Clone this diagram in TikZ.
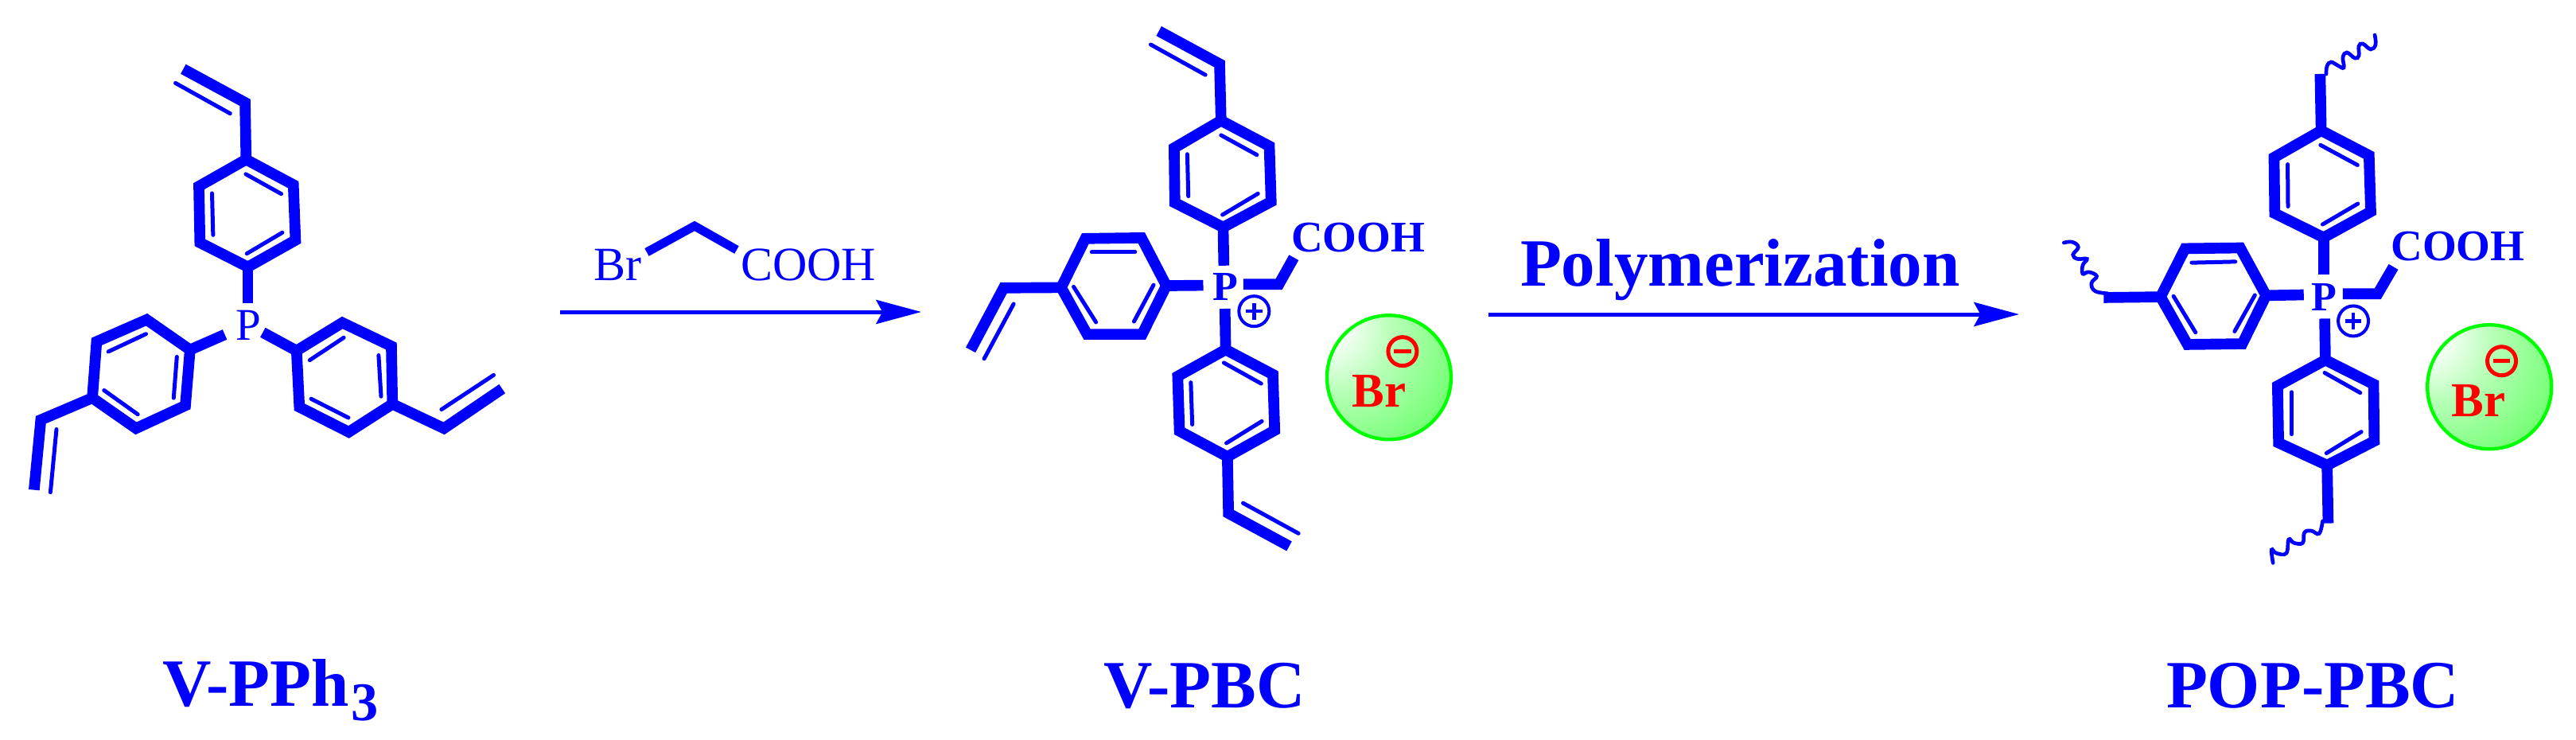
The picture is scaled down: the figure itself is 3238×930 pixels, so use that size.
\documentclass[tikz,border=0pt]{standalone}
\usepackage{fontspec}
\setmainfont{Liberation Serif}
\usetikzlibrary{arrows.meta}
\definecolor{cblue}{rgb}{0,0,1}
\definecolor{cred}{rgb}{1,0,0}
\definecolor{cgreen}{rgb}{0,1,0}
\pgfdeclareradialshading{gball}{\pgfpoint{-30bp}{24bp}}{%
 rgb(0bp)=(1,1,1); rgb(8bp)=(1,1,1); rgb(24bp)=(.72,1,.72); rgb(50bp)=(.4,1,.4); rgb(76bp)=(.1,1,.1); rgb(90bp)=(0,1,0); rgb(100bp)=(0,1,0)}
\tikzset{
 bond/.style={draw=cblue,line width=4.1pt,line join=miter,miter limit=10},
 dbl/.style={draw=cblue,line width=1.5pt,line cap=round},
 wavy/.style={draw=cblue,line width=1.4pt,line cap=round},
 lab/.style={inner sep=0pt,outer sep=0pt,anchor=base west,text=cblue},
 pnode/.style={lab,font=\fontsize{15.6}{16}\selectfont\bfseries},
 cooh/.style={lab,font=\fontsize{16.5}{17}\selectfont\bfseries},
 brion/.style={lab,text=cred,font=\fontsize{18.3}{19}\selectfont\bfseries},
 title/.style={lab,font=\fontsize{25.5}{26}\selectfont\bfseries},
 reag/.style={lab,font=\fontsize{18}{19}\selectfont},
 rxn/.style={draw=cblue,line width=1.5pt,-{Stealth[length=17pt,width=9pt,inset=2.4pt]}},
 ball/.style={shading=gball,draw=cgreen,line width=1.3pt},
 plusc/.style={draw=cblue,line width=1.2pt},
 minusc/.style={draw=cred,line width=1.5pt},
}
\newcommand{\benz}[7]{%
 \coordinate (#11) at (#2); \coordinate (#12) at (#3); \coordinate (#13) at (#4);
 \coordinate (#14) at (#5); \coordinate (#15) at (#6); \coordinate (#16) at (#7);
 \draw[bond] (#11)--(#12)--(#13)--(#14)--(#15)--(#16)--cycle;}
\newcommand{\inl}[2]{\draw[dbl] (#1)--(#2);}
\newcommand{\plusmark}[1]{%
 \draw[plusc] (#1) circle[radius=5.7pt];
 \draw[plusc,line width=1.3pt] ([xshift=-3.1pt]#1)--([xshift=3.1pt]#1);
 \draw[plusc,line width=1.3pt] ([yshift=-3.1pt]#1)--([yshift=3.1pt]#1);}
\newcommand{\minusmark}[1]{%
 \draw[minusc] (#1) circle[radius=5.4pt];
 \draw[minusc] ([xshift=-3.2pt]#1)--([xshift=3.2pt]#1);}
\begin{document}
\begin{tikzpicture}[x=0.3pt,y=-0.3pt]
\useasboundingbox (0,0) rectangle (3238,930);
% molecule 1
\begin{scope}[xshift=0pt,yshift=-18pt,x=0.13393pt,y=-0.11480pt]
 \node[lab,font=\fontsize{17.1}{18}\selectfont] (pa) at (665,960) {P};
 \benz{at}{693,367}{826,450}{832,632}{698,720}{563,640}{560,455}
 \inl{692,415}{792,480}\inl{597,478}{600,615}\inl{695,676}{795,607}
 \coordinate (av1) at (516,70);\coordinate (av2) at (690,180);
 \draw[bond] (av1)--(av2)--(at1);
 \inl{494,116}{648,216}
 \coordinate (apt) at (698,840);
 \draw[bond] (at4)--(apt);
 \benz{al}{413,893}{535,992}{522,1175}{383,1250}{260,1150}{272,965}
 \inl{305,998}{411,940}\inl{498,1015}{489,1150}\inl{293,1125}{388,1204}
 \coordinate (apl) at (633,942);
 \draw[bond] (al2)--(apl);
 \coordinate (aw1) at (115,1222);\coordinate (aw2) at (96,1452);
 \draw[bond] (al5)--(aw1)--(aw2);
 \inl{159,1253}{142,1460}
 \benz{ar}{964,903}{1102,980}{1105,1170}{982,1262}{843,1180}{835,995}
 \inl{968,952}{872,1026}\inl{1066,1010}{1073,1145}\inl{876,1153}{981,1215}
 \coordinate (apr) at (740,935);
 \draw[bond] (ar6)--(apr);
 \coordinate (ax1) at (1250,1250);\coordinate (ax2) at (1414,1120);
 \draw[bond] (ar3)--(ax1)--(ax2);
 \inl{1243,1188}{1390,1075}
\end{scope}
% molecule 2
\begin{scope}[xshift=345pt,yshift=0pt,x=0.13393pt,y=-0.13774pt]
 \node[pnode] (pb) at (838,822) {P};
 \benz{bt}{862,330}{998,400}{1003,552}{868,622}{732,555}{730,405}
 \inl{862,370}{963,424}\inl{767,422}{770,537}\inl{866,588}{966,530}
 \coordinate (bv1) at (687,85);\coordinate (bv2) at (858,175);
 \draw[bond] (bv1)--(bv2)--(bt1);
 \inl{664,122}{818,205}
 \coordinate (bpt) at (870,727);
 \draw[bond] (bt4)--(bpt);
 \benz{bl}{480,653}{638,651}{708,782}{640,915}{485,915}{412,787}
 \inl{498,690}{620,690}\inl{447,785}{510,882}\inl{672,780}{617,880}
 \coordinate (bpl) at (812,781);
 \draw[bond] (bl3)--(bpl);
 \coordinate (bw1) at (250,788);\coordinate (bw2) at (157,958);
 \draw[bond] (bl6)--(bw1)--(bw2);
 \inl{278,832}{195,982}
 \benz{bb}{875,957}{1008,1025}{1013,1178}{880,1250}{745,1180}{740,1030}
 \inl{870,993}{975,1050}\inl{777,1047}{781,1162}\inl{877,1213}{977,1153}
 \coordinate (bpb) at (873,845);
 \draw[bond] (bb1)--(bpb);
 \coordinate (bx1) at (883,1405);\coordinate (bx2) at (1054,1495);
 \draw[bond] (bb4)--(bx1)--(bx2);
 \inl{924,1377}{1080,1460}
 \coordinate (bc0) at (925,778);\coordinate (bc1) at (1025,778);\coordinate (bc2) at (1067,705);
 \draw[bond] (bc0)--(bc1)--(bc2);
 \node[cooh] (cb) at (1060,690) {COOH};
 \coordinate (bplus) at (955,852);
 \plusmark{bplus}
 \coordinate (bball) at (1335,1033);
 \path[ball] (bball) circle[radius=23.4pt];
 \node[brion] (brb) at (1232,1113) {Br};
 \coordinate (bminus) at (1373,962);
 \minusmark{bminus}
\end{scope}
% molecule 3
\begin{scope}[xshift=765pt,yshift=-18pt,x=0.13164pt,y=-0.13010pt]
 \node[pnode] (pc) at (810,762) {P};
 \benz{ct}{838,240}{975,312}{980,475}{845,550}{705,480}{703,318}
 \inl{836,282}{942,340}\inl{742,338}{743,460}\inl{842,512}{943,452}
 \coordinate (cv1) at (835,76);
 \draw[bond] (ct1)--(cv1);
 \coordinate (cpt) at (845,658);
 \draw[bond] (ct4)--(cpt);
 \benz{cl}{448,582}{606,580}{680,718}{612,858}{455,860}{378,722}
 \inl{467,623}{592,620}\inl{415,720}{478,825}\inl{648,717}{590,822}
 \coordinate (cpl) at (788,716);
 \draw[bond] (cl3)--(cpl);
 \coordinate (cw1) at (215,724);
 \draw[bond] (cl6)--(cw1);
 \draw[wavy] plot[smooth,tension=.7] coordinates {(226,712)(190,705)(180,682)(195,662)(172,650)(155,655)(155,630)(167,612)(140,612)(127,600)(142,578)(125,563)(101,565)};
 \benz{cb}{850,905}{988,975}{990,1140}{855,1210}{716,1145}{713,980}
 \inl{848,942}{950,1000}\inl{753,998}{753,1120}\inl{853,1175}{953,1113}
 \coordinate (cpb) at (848,785);
 \draw[bond] (cb1)--(cpb);
 \coordinate (cw2) at (858,1378);
 \draw[bond] (cb4)--(cw2);
 \draw[wavy] plot[smooth,tension=.7] coordinates {(842,1372)(832,1408)(810,1400)(790,1405)(785,1435)(760,1435)(745,1425)(738,1465)(710,1465)(696,1455)(700,1493)};
 \coordinate (cc0) at (900,713);\coordinate (cc1) at (1000,713);\coordinate (cc2) at (1045,635);
 \draw[bond] (cc0)--(cc1)--(cc2);
 \node[cooh] (cc) at (1038,618) {COOH};
 \coordinate (cplus) at (930,792);
 \plusmark{cplus}
 \coordinate (cball) at (1320,983);
 \path[ball] (cball) circle[radius=23.4pt];
 \node[brion] (brc) at (1212,1068) {Br};
 \coordinate (cminus) at (1355,908);
 \minusmark{cminus}
\end{scope}
% top squiggle on molecule 3
\draw[wavy] plot[smooth,tension=.7] coordinates {(2924,93)(2925,83)(2930,78)(2938,82)(2946,85)(2945,72)(2950,66)(2960,73)(2965,70)(2965,58)(2970,55)(2980,62)(2986,56)(2985,44)};
% reagent and arrows
\node[reag] (br) at (746,352) {Br};
\node[reag] (acid) at (931,352) {COOH};
\coordinate (r1) at (813,317);\coordinate (r2) at (873,284);\coordinate (r3) at (926,314);
\draw[bond,line width=3.3pt] (r1)--(r2)--(r3);
\coordinate (a1s) at (704,392);\coordinate (a1e) at (1158,392);
\draw[rxn] (a1s)--(a1e);
\node[lab,font=\fontsize{25.5}{26}\selectfont\bfseries] (poly) at (1911,359) {Polymerization};
\coordinate (a2s) at (1871,395);\coordinate (a2e) at (2538,395);
\draw[rxn] (a2s)--(a2e);
% titles
\node[title] (t1) at (204,887) {V-PPh\hspace{1pt}\raisebox{-5.4pt}{\fontsize{20.5}{21}\selectfont 3}};
\node[title] (t2) at (1387,889) {V-PBC};
\node[title] (t3) at (2723,889) {POP-PBC};
\end{tikzpicture}
\end{document}
